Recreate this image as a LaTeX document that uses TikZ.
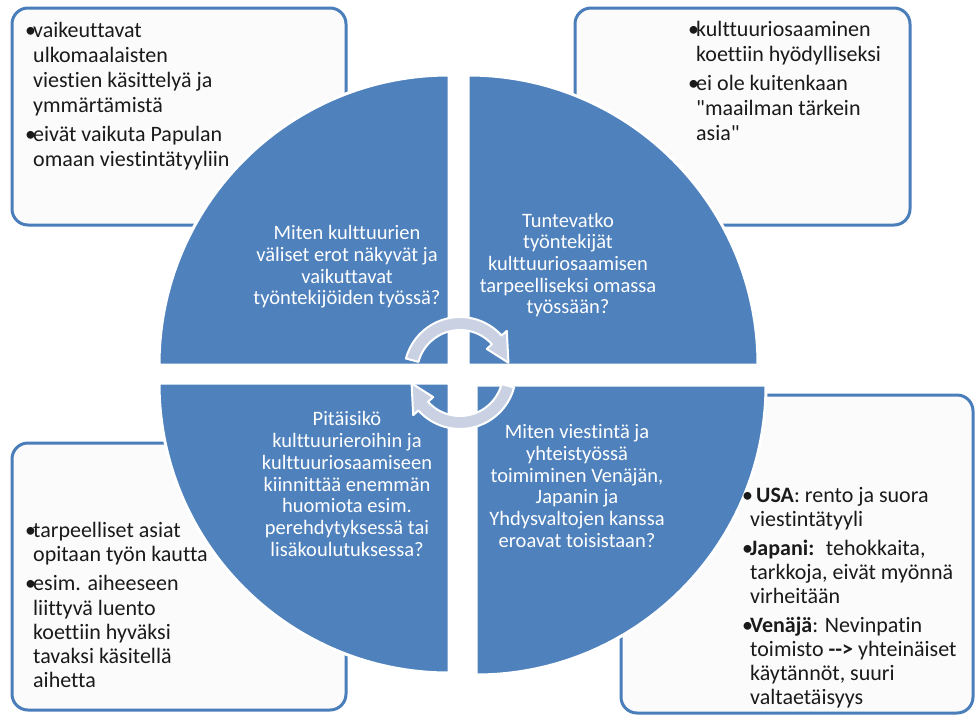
\documentclass[tikz,border=0pt]{standalone}
\usepackage{fontspec}
\setmainfont{Carlito}[Ligatures={TeXOff,NoCommon}]
\definecolor{qblue}{HTML}{4F81BD}
\definecolor{bblue}{HTML}{4A7EBB}
\definecolor{arrowfill}{HTML}{C9D1E3}
\definecolor{boxfill}{HTML}{FBFBFB}
\definecolor{btxt}{HTML}{1A1A1A}
\newcommand{\bl}{\makebox[8pt][l]{•}}
\newcommand{\ind}{\hspace*{8pt}}
\begin{document}
\begin{tikzpicture}[x=1pt,y=-1pt,
  infobox/.style={draw=bblue, line width=3pt, rounded corners=16pt, fill=boxfill},
  quadrant/.style={fill=qblue, draw=white, line width=3pt},
  cyc/.style={fill=arrowfill, draw=white, line width=2pt, line join=round},
  qtext/.style={text=white, align=center, inner sep=0pt, font=\fontsize{20.5}{21.7}\selectfont},
  btext/.style={text=btxt, align=left, inner sep=0pt, anchor=north west, font=\fontsize{22}{25}\selectfont}]
\useasboundingbox (0,0) rectangle (976,715);
% corner boxes
\path[infobox] (12,8) rectangle (346,225);
\path[infobox] (575,8) rectangle (910,225);
\path[infobox] (12,443) rectangle (346,710);
\path[infobox] (621,395) rectangle (973,713);
% quadrants
\path[quadrant] (449,365) -- (159,365) arc[start angle=180,end angle=270,radius=290] -- cycle;
\path[quadrant] (468,365) -- (468,75) arc[start angle=270,end angle=360,radius=290] -- cycle;
\path[quadrant] (449,383) -- (449,673) arc[start angle=90,end angle=180,radius=290] -- cycle;
\path[quadrant] (476,385) -- (766,385) arc[start angle=0,end angle=90,radius=290] -- cycle;
% cycle arrows
\begin{scope}[shift={(460,373)}]
\path[cyc] (195:56) arc[start angle=195,end angle=318,radius=56] -- (318:63) -- (348:49.5) -- (318:36) -- (318:43) arc[start angle=318,end angle=195,radius=43] -- cycle;
\path[cyc] (15:56) arc[start angle=15,end angle=138,radius=56] -- (138:63) -- (168:49.5) -- (138:36) -- (138:43) arc[start angle=138,end angle=15,radius=43] -- cycle;
\end{scope}
% quadrant texts
\node[qtext] (q1) at (347,267) {Miten kulttuurien\\väliset erot näkyvät ja\\vaikuttavat\\työntekijöiden työssä?};
\node[qtext] (q2) at (568,265) {Tuntevatko\\työntekijät\\kulttuuriosaamisen\\tarpeelliseksi omassa\\työssään?};
\node[qtext] (q3) at (347,484) {Pitäisikö\\kulttuurieroihin ja\\kulttuuriosaamiseen\\kiinnittää enemmän\\huomiota esim.\\perehdytyksessä tai\\lisäkoulutuksessa?};
\node[qtext] (q4) at (577,486) {Miten viestintä ja\\yhteistyössä\\toimiminen Venäjän,\\Japanin ja\\Yhdysvaltojen kanssa\\eroavat toisistaan?};
% box texts
\node[btext] (t1) at (25,22) {\bl vaikeuttavat\\\ind ulkomaalaisten\\\ind viestien käsittelyä ja\\\ind ymmärtämistä\\[4pt]\bl eivät vaikuta Papulan\\\ind omaan viestintätyyliin};
\node[btext] (t2) at (688,21) {\bl kulttuuriosaaminen\\\ind koettiin hyödylliseksi\\[4pt]\bl ei ole kuitenkaan\\\ind "maailman tärkein\\\ind asia"};
\node[btext, font=\fontsize{22}{24.2}\selectfont] (t3) at (25,522) {\bl tarpeelliset asiat\\\ind opitaan työn kautta\\[5pt]\bl esim. aiheeseen\\\ind liittyvä luento\\\ind koettiin hyväksi\\\ind tavaksi käsitellä\\\ind aihetta};
\node[btext, font=\fontsize{22}{24}\selectfont] (t4) at (742,487) {\bl\hspace{6pt}\textbf{USA}: rento ja suora\\\ind viestintätyyli\\[5pt]\bl\textbf{Japani:}~ tehokkaita,\\\ind tarkkoja, eivät myönnä\\\ind virheitään\\[5pt]\bl\textbf{Venäjä}: Nevinpatin\\\ind toimisto \textbf{-->} yhteinäiset\\\ind käytännöt, suuri\\\ind valtaetäisyys};
\end{tikzpicture}
\end{document}
